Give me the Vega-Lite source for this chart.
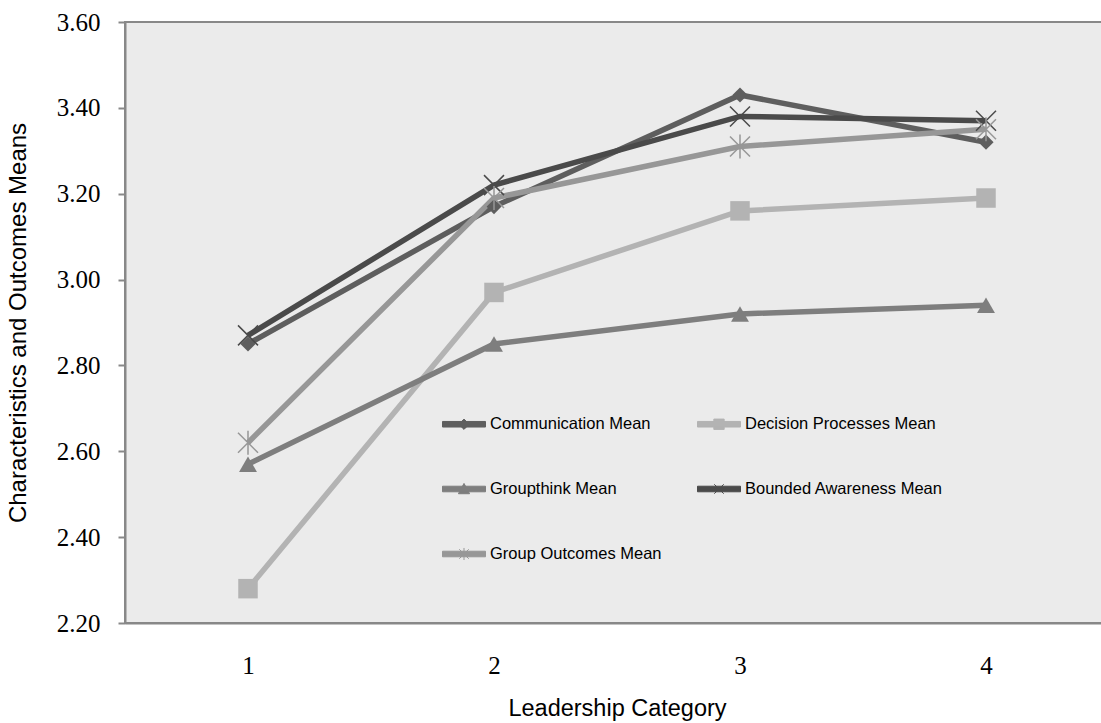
{
  "$schema": "https://vega.github.io/schema/vega-lite/v6.json",
  "width": 984,
  "height": 601,
  "autosize": "none",
  "padding": {"left": 125, "top": 22, "right": 0, "bottom": 100},
  "background": "white",
  "config": {
    "view": {"fill": "#ebebeb", "stroke": "#888888", "strokeWidth": 2},
    "axis": {"grid": false}
  },
  "data": {
    "values": [
      {"series": "Communication Mean", "cat": "1", "value": 2.85},
      {"series": "Communication Mean", "cat": "2", "value": 3.17},
      {"series": "Communication Mean", "cat": "3", "value": 3.43},
      {"series": "Communication Mean", "cat": "4", "value": 3.32},
      {"series": "Decision Processes Mean", "cat": "1", "value": 2.28},
      {"series": "Decision Processes Mean", "cat": "2", "value": 2.97},
      {"series": "Decision Processes Mean", "cat": "3", "value": 3.16},
      {"series": "Decision Processes Mean", "cat": "4", "value": 3.19},
      {"series": "Groupthink Mean", "cat": "1", "value": 2.57},
      {"series": "Groupthink Mean", "cat": "2", "value": 2.85},
      {"series": "Groupthink Mean", "cat": "3", "value": 2.92},
      {"series": "Groupthink Mean", "cat": "4", "value": 2.94},
      {"series": "Bounded Awareness Mean", "cat": "1", "value": 2.87},
      {"series": "Bounded Awareness Mean", "cat": "2", "value": 3.22},
      {"series": "Bounded Awareness Mean", "cat": "3", "value": 3.38},
      {"series": "Bounded Awareness Mean", "cat": "4", "value": 3.37},
      {"series": "Group Outcomes Mean", "cat": "1", "value": 2.62},
      {"series": "Group Outcomes Mean", "cat": "2", "value": 3.19},
      {"series": "Group Outcomes Mean", "cat": "3", "value": 3.31},
      {"series": "Group Outcomes Mean", "cat": "4", "value": 3.35}
    ]
  },
  "encoding": {
    "x": {
      "field": "cat", "type": "ordinal",
      "scale": {"type": "point", "padding": 0.5},
      "axis": {
        "title": "Leadership Category", "labelAngle": 0,
        "ticks": false, "labelPadding": 30,
        "labelFont": "Liberation Serif", "labelFontSize": 25, "labelColor": "#000000",
        "domainColor": "#888888", "domainWidth": 2,
        "titleFont": "Liberation Sans", "titleFontSize": 23.5, "titleFontWeight": "normal", "titleColor": "#000000",
        "titlePadding": 18
      }
    },
    "y": {
      "field": "value", "type": "quantitative",
      "scale": {"domain": [2.2, 3.6], "zero": false, "nice": false},
      "axis": {
        "title": "Characteristics and Outcomes Means",
        "values": [2.2, 2.4, 2.6, 2.8, 3.0, 3.2, 3.4, 3.6], "format": ".2f",
        "tickSize": 7, "tickColor": "#888888", "tickWidth": 2,
        "labelPadding": 18,
        "labelFont": "Liberation Serif", "labelFontSize": 25, "labelColor": "#000000",
        "domainColor": "#888888", "domainWidth": 2,
        "titleFont": "Liberation Sans", "titleFontSize": 24, "titleFontWeight": "normal", "titleColor": "#000000",
        "titlePadding": 26
      }
    },
    "color": {
      "field": "series", "type": "nominal",
      "scale": {
        "domain": ["Communication Mean", "Decision Processes Mean", "Groupthink Mean", "Bounded Awareness Mean", "Group Outcomes Mean"],
        "range": ["#5e5e5e", "#b3b3b3", "#7e7e7e", "#4a4a4a", "#979797"]
      },
      "legend": {
        "title": null, "orient": "none", "legendX": 317, "legendY": 380,
        "direction": "horizontal",
        "columns": 2, "padding": 0, "symbolSize": 1849, "labelOffset": 4,
        "rowPadding": 34, "columnPadding": 33,
        "labelFont": "Liberation Sans", "labelFontSize": 16.5, "labelColor": "#000000",
        "labelLimit": 400,
        "encode": {
          "symbols": {
            "update": {
              "shape": {"signal": "datum.value === 'Communication Mean' ? 'M-1,-0.13H1V0.13H-1Z M0,-0.24L0.24,0L0,0.24L-0.24,0Z' : datum.value === 'Decision Processes Mean' ? 'M-1,-0.13H1V0.13H-1Z M-0.24,-0.24H0.24V0.24H-0.24Z' : datum.value === 'Groupthink Mean' ? 'M-1,-0.13H1V0.13H-1Z M0,-0.26L0.26,0.22L-0.26,0.22Z' : datum.value === 'Bounded Awareness Mean' ? 'M-1,-0.13H1V0.13H-1Z M-0.22,-0.22L0.22,0.22M0.22,-0.22L-0.22,0.22' : 'M-1,-0.13H1V0.13H-1Z M-0.22,-0.22L0.22,0.22M0.22,-0.22L-0.22,0.22M0,-0.28L0,0.28'"},
              "size": {"value": 1849},
              "fill": {"scale": "color", "field": "value"},
              "stroke": {"scale": "color", "field": "value"},
              "strokeWidth": {"value": 1},
              "opacity": {"value": 1}
            }
          }
        }
      }
    }
  },
  "layer": [
    {"mark": {"type": "line", "strokeWidth": 5.5}},
    {
      "transform": [{"filter": "datum.series === 'Communication Mean'"}],
      "mark": {"type": "point", "shape": "diamond", "size": 230, "filled": true, "opacity": 1}
    },
    {
      "transform": [{"filter": "datum.series === 'Decision Processes Mean'"}],
      "mark": {"type": "point", "shape": "square", "size": 380, "filled": true, "opacity": 1}
    },
    {
      "transform": [{"filter": "datum.series === 'Groupthink Mean'"}],
      "mark": {"type": "point", "shape": "triangle-up", "size": 320, "filled": true, "opacity": 1}
    },
    {
      "transform": [{"filter": "datum.series === 'Bounded Awareness Mean'"}],
      "mark": {"type": "point", "shape": "M-1,-1L1,1M1,-1L-1,1", "size": 400, "filled": false, "opacity": 1, "strokeWidth": 1.5}
    },
    {
      "transform": [{"filter": "datum.series === 'Group Outcomes Mean'"}],
      "mark": {"type": "point", "shape": "M-1,-1L1,1M1,-1L-1,1M0,-1.2L0,1.2", "size": 400, "filled": false, "opacity": 1, "strokeWidth": 1.5}
    }
  ]
}
